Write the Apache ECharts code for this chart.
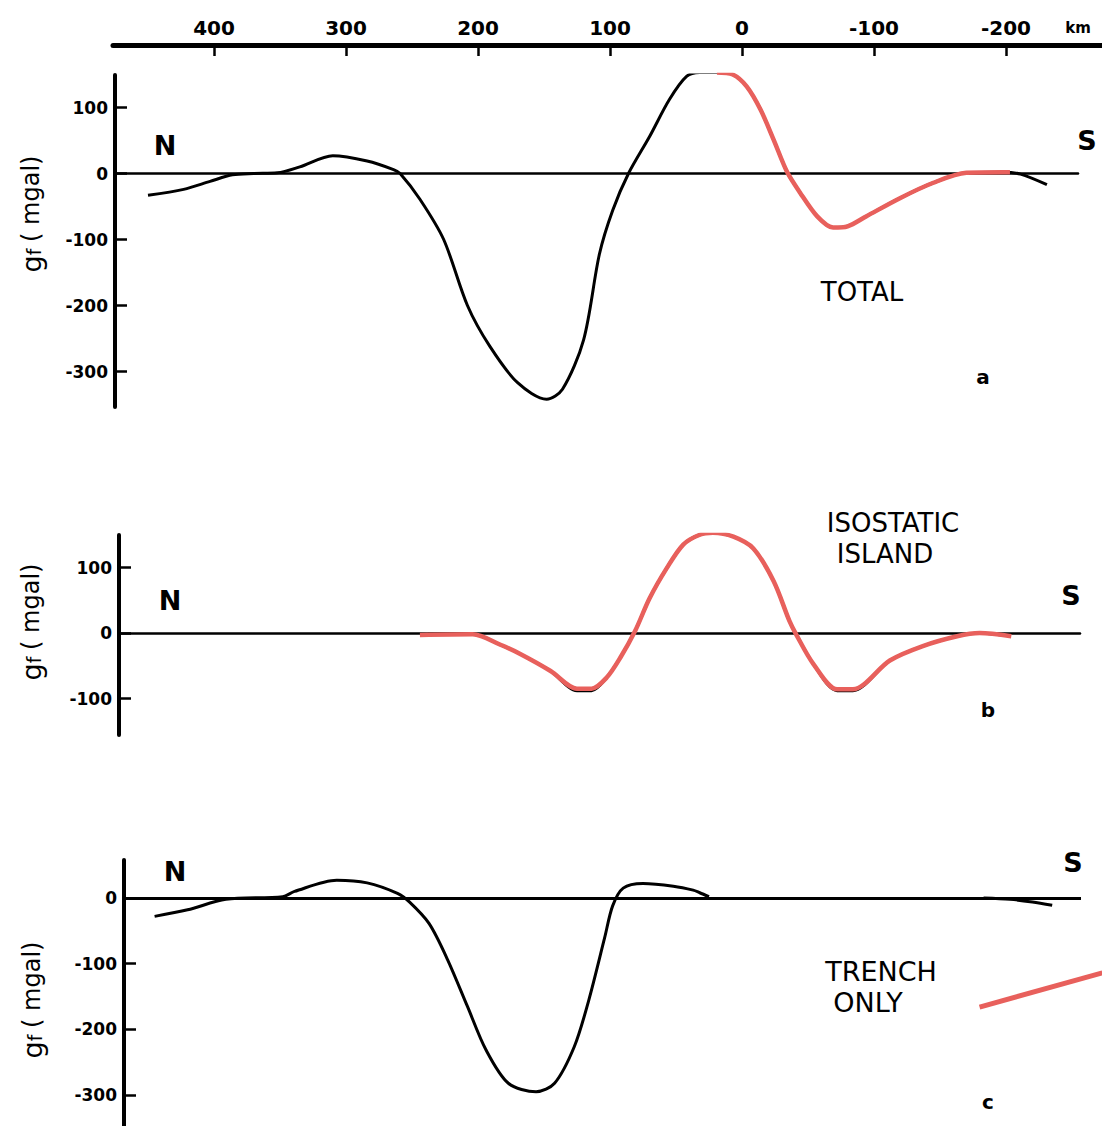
<!DOCTYPE html>
<html><head><meta charset="utf-8">
<script src="https://cdn.jsdelivr.net/npm/echarts@6/dist/echarts.min.js"></script>
<style>html,body{margin:0;padding:0;background:#fff}#c{width:1102px;height:1126px}</style>
</head><body><div id="c"></div>
<script>
// ---- tick labels ----
const kmTicks = [400, 300, 200, 100, 0, -100, -200];
const totalTicks = [100, 0, -100, -200, -300];
const isoTicks = [100, 0, -100];
const trenchTicks = [0, -100, -200, -300];

// ---- panel a: TOTAL ----
const totalKm = [450,423,403,386,370,352,335,310,284,264,259,244,226,208,191,170,148,136,120,108,98,86,70,55,42,32,19,7,-3.5,-14,-24,-34,-44,-57,-69,-80,-94,-120,-145,-170,-198,-211,-231];
const totalMgal = [-33,-24,-12,-2,0,1,10,27,19,6,0,-39,-100,-200,-262,-317,-342,-327,-252,-122,-56,0,56,112,147,153,153,150,132,97,51,3,-29,-65,-82,-80,-65,-37,-14,1,2,-1,-17];
const totalRedKm = [19,7,-3.5,-14,-24,-34,-44,-57,-69,-80,-94,-120,-145,-170,-198,-203];
const totalRedMgal = [153,150,132,97,51,3,-29,-65,-82,-80,-65,-37,-14,1,2,2];

// ---- panel b: ISOSTATIC ISLAND ----
const isoKm = [238,204,183,168,145,125,114,102.5,92,81,70,57,44.5,32,22,6.5,-8.6,-24,-36,-41,-54,-72,-84,-112,-137,-163,-180,-200];
const isoMgal = [-2,-2,-18,-32,-58,-88,-88,-68,-37,3,53,99,135,150,153,147,129,79,18,-2,-47,-88,-88,-42,-20,-5,0,-4];
const isoRedKm = [244,204,183,168,145,125,114,102.5,92,81,70,57,44.5,32,22,6.5,-8.6,-24,-36,-41,-54,-72,-84,-112,-137,-163,-180,-204];
const isoRedMgal = [-3,-2,-18,-32,-58,-85,-85,-68,-37,3,53,99,135,150,153,147,129,79,18,-2,-47,-86,-86,-42,-20,-5,0,-5];

// ---- panel c: TRENCH ONLY ----
const trenchKm = [445,420,391,348,339,307,284,261,252,237,223,208,194,177,156,142,127,116,104,98,90,75,52,37,32,25];
const trenchMgal = [-28,-18,-2,2,10,27,23,7,-6,-39,-94,-165,-231,-282,-295,-282,-226,-155,-60,-12,15,22,18,12,8,2];
const trenchRightKm = [-183,-203,-220,-235];
const trenchRightMgal = [0,-2,-6,-11];
const trenchRedKm = [-180,-273];
const trenchRedMgal = [-166,-114];

// ---- layout helpers ----
const PX_PER_KM = 1.32, KM0_X = 742;
const kmAt = px => (KM0_X - px) / PX_PER_KM;
const zip = (a, b) => a.map((v, i) => [v, b[i]]);
const NUM_FONT = 'DejaVu Sans';
const TXT_FONT = 'DejaVu Sans';
const RED = '#E8605C';

function panelX(gi, leftPx, rightPx, zw, showLine) {
  return {
    gridIndex: gi, type: 'value', inverse: true,
    min: kmAt(rightPx), max: kmAt(leftPx),
    axisLine: { show: showLine, onZero: true, lineStyle: { color: '#000', width: zw } },
    axisTick: { show: false }, axisLabel: { show: false }, splitLine: { show: false }
  };
}
function panelY(gi, zeroPx, topPx, bottomPx, pxPerMgal, ticks) {
  return {
    gridIndex: gi, type: 'value',
    min: (zeroPx - bottomPx) / pxPerMgal, max: (zeroPx - topPx) / pxPerMgal,
    axisLine: { show: true, onZero: false, lineStyle: { color: '#000', width: 4 } },
    axisTick: { show: true, inside: true, length: 12, customValues: ticks, lineStyle: { color: '#000', width: 2.5 } },
    axisLabel: { customValues: ticks, color: '#000', fontFamily: NUM_FONT, fontWeight: 'bold', fontSize: 17, margin: 7 },
    splitLine: { show: false }
  };
}
function line(xi, data, color, w, extra) {
  return Object.assign({
    type: 'line', xAxisIndex: xi, yAxisIndex: xi, data: data,
    smooth: 0.3, symbol: 'none', showSymbol: false,
    lineStyle: { color: color, width: w }, silent: true
  }, extra || {});
}
function txt(x, y, s, size, extra) {
  return { type: 'text', x: x, y: y, silent: true,
    style: Object.assign({ text: s, fill: '#000', fontFamily: TXT_FONT, fontSize: size,
      align: 'center', verticalAlign: 'middle' }, extra || {}) };
}
function yName(x, y) {
  return { type: 'text', x: x, y: y, rotation: Math.PI / 2, silent: true,
    style: { text: '{g|g}{f|f}  {m|( mgal)}', align: 'center', verticalAlign: 'middle', fill: '#000',
      rich: {
        g: { fontFamily: TXT_FONT, fontSize: 27, fill: '#000' },
        f: { fontFamily: TXT_FONT, fontSize: 19, fill: '#000', padding: [6, 0, 0, 0] },
        m: { fontFamily: TXT_FONT, fontSize: 24, fill: '#000' }
      } } };
}

const chart = echarts.init(document.getElementById('c'), null, { renderer: 'svg' });
chart.setOption({
  animation: false,
  backgroundColor: '#fff',
  grid: [
    { left: 113, width: 989, top: 45, height: 1 },
    { left: 115, width: 963, top: 75, height: 332 },
    { left: 119, width: 961, top: 535, height: 200 },
    { left: 124, width: 978, top: 860, height: 266 }
  ],
  xAxis: [
    { gridIndex: 0, type: 'value', position: 'top', inverse: true,
      min: kmAt(1102), max: kmAt(113),
      axisLine: { show: true, onZero: false, lineStyle: { color: '#000', width: 5 } },
      axisTick: { show: true, inside: true, length: 11, customValues: kmTicks, lineStyle: { color: '#000', width: 2.5 } },
      axisLabel: { customValues: kmTicks, color: '#000', fontFamily: NUM_FONT, fontWeight: 'bold', fontSize: 20, margin: 7 },
      splitLine: { show: false } },
    panelX(1, 115, 1078, 2.5, true),
    panelX(2, 119, 1080, 2.5, true),
    panelX(3, 124, 1102, 3, false)
  ],
  yAxis: [
    { gridIndex: 0, type: 'value', show: false, min: 0, max: 1 },
    panelY(1, 173.5, 75, 407, 0.66, totalTicks),
    panelY(2, 633, 535, 735, 0.655, isoTicks),
    panelY(3, 898, 860, 1126, 0.657, trenchTicks)
  ],
  series: [
    line(1, zip(totalKm, totalMgal), '#000', 3),
    line(1, zip(totalRedKm, totalRedMgal), RED, 4.5),
    line(2, zip(isoKm, isoMgal), '#000', 3),
    line(2, zip(isoRedKm, isoRedMgal), RED, 4.5),
    line(3, zip(trenchKm, trenchMgal), '#000', 3, {
      markLine: { silent: true, symbol: ['none', 'none'], label: { show: false },
        lineStyle: { color: '#000', width: 3, type: 'solid' },
        data: [[{ coord: [kmAt(124), 0] }, { coord: [kmAt(1081), 0] }]] }
    }),
    line(3, zip(trenchRightKm, trenchRightMgal), '#000', 3),
    line(3, zip(trenchRedKm, trenchRedMgal), RED, 5, { smooth: false })
  ],
  graphic: [
    txt(1078, 28, 'km', 15, { fontWeight: 'bold', fontFamily: NUM_FONT }),
    yName(31, 214), yName(31, 622), yName(32, 1000),
    txt(165, 145, 'N', 27, { fontWeight: 'bold' }), txt(1087, 140, 'S', 27, { fontWeight: 'bold' }),
    txt(170, 600, 'N', 27, { fontWeight: 'bold' }), txt(1071, 595, 'S', 27, { fontWeight: 'bold' }),
    txt(175, 871, 'N', 27, { fontWeight: 'bold' }), txt(1073, 862, 'S', 27, { fontWeight: 'bold' }),
    txt(862, 292, 'TOTAL', 26),
    txt(893, 523, 'ISOSTATIC', 26),
    txt(885, 554, 'ISLAND', 26),
    txt(881, 971, 'TRENCH', 27),
    txt(868, 1002, 'ONLY', 27),
    txt(983, 377, 'a', 20, { fontWeight: 'bold' }),
    txt(988, 710, 'b', 20, { fontWeight: 'bold' }),
    txt(988, 1102, 'c', 20, { fontWeight: 'bold' })
  ]
});
</script>
</body></html>
